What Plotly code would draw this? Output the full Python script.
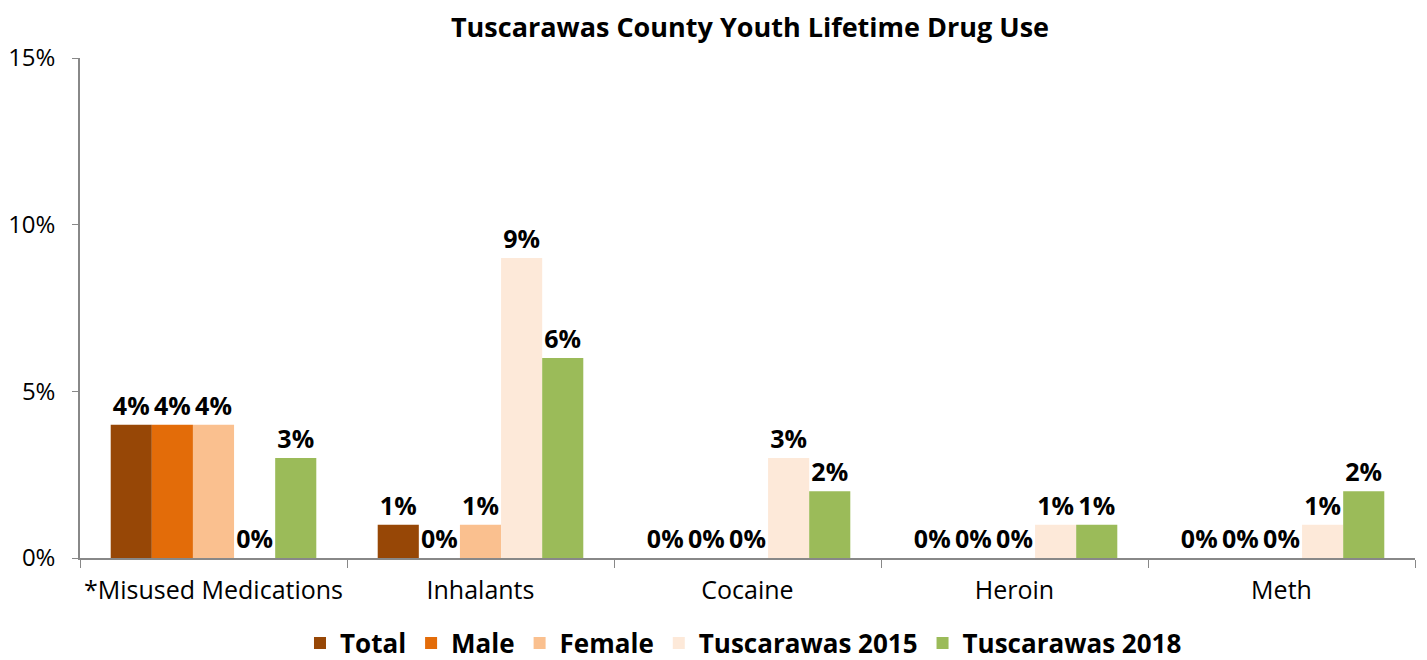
import plotly.graph_objects as go

categories = ["*Misused Medications", "Inhalants", "Cocaine", "Heroin", "Meth"]
series_names = ["Total", "Male", "Female", "Tuscarawas 2015", "Tuscarawas 2018"]
total = [4, 1, 0, 0, 0]
male = [4, 0, 0, 0, 0]
female = [4, 1, 0, 0, 0]
tusc_2015 = [0, 9, 3, 1, 1]
tusc_2018 = [3, 6, 2, 1, 2]
colors = ["#974706", "#E36C09", "#FAC08F", "#FDE9D9", "#9BBB59"]

fig = go.Figure()
for name, vals, col in zip(series_names, [total, male, female, tusc_2015, tusc_2018], colors):
    fig.add_trace(go.Bar(
        x=categories, y=[v / 100 for v in vals], name=name,
        marker=dict(color=col, line=dict(width=0)),
        text=[f"{v}%" for v in vals], textposition="outside",
        textfont=dict(family="Open Sans", size=25, color="black", weight="bold"),
        cliponaxis=False,
    ))

fig.update_layout(
    barmode="group", bargap=0.23, bargroupgap=0,
    width=1427, height=660,
    margin=dict(l=72, r=20, t=50, b=110, autoexpand=False),
    plot_bgcolor="white", paper_bgcolor="white",
    font=dict(family="Open Sans", size=24, color="black"),
    title=dict(text="<b>Tuscarawas County Youth Lifetime Drug Use</b>",
               x=0.52, xanchor="center", y=0.97, yanchor="middle",
               font=dict(size=27, color="black")),
    legend=dict(orientation="h", x=0.497, xanchor="center", y=-0.17, yanchor="middle",
                font=dict(size=26, weight="bold"), itemwidth=30, traceorder="normal"),
    uniformtext=dict(minsize=8, mode="show"),
)
fig.update_xaxes(showline=True, linecolor="#888888", linewidth=1.5, automargin=False,
                 ticks="outside", tickson="boundaries", ticklen=8, tickcolor="#888888",
                 tickfont=dict(size=25), ticklabelstandoff=9, tickangle=0)
fig.update_yaxes(range=[0, 0.15], tickvals=[0, 0.05, 0.10, 0.15], tickformat=".0%",
                 showline=True, linecolor="#888888", linewidth=1.5, showgrid=False,
                 ticks="outside", ticklen=6, tickcolor="#888888", zeroline=False,
                 automargin=False, tickfont=dict(size=24), ticklabelstandoff=12)

fig.write_html("out.html")
